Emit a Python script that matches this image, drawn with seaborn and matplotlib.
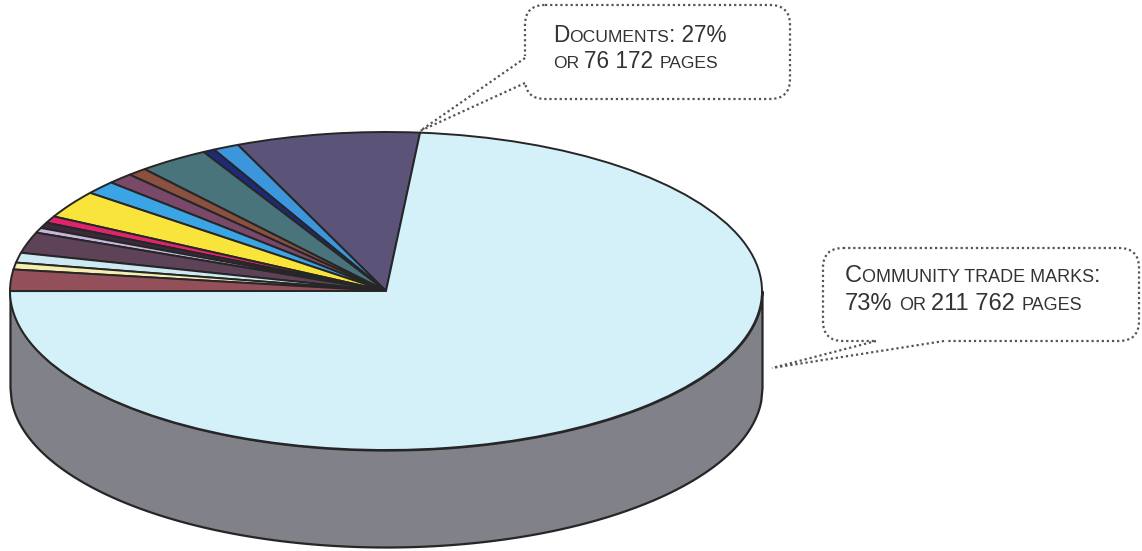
import numpy as np
import matplotlib
matplotlib.use("Agg")
import matplotlib.pyplot as plt
from matplotlib.patches import FancyBboxPatch
import seaborn as sns

# ---- data (pages) ----
ctm_label = "Community trade marks"
ctm_pages = 211762
doc_pages = [22716, 3211, 1445, 8749, 2408, 3211, 3933, 8107,
             2007, 1686, 1445, 6100, 2890, 2007, 6257]  # document sub-categories (sum 76 172)
doc_colors = ["#5b5478", "#3d95dc", "#1c2a78", "#4a747c", "#8a5040", "#7a4868",
              "#3aa4e4", "#f8e43a", "#e0246c", "#3a2a3a", "#c8b4dc", "#5e4258",
              "#cde9f2", "#f6eeb0", "#94505a"]
ctm_color = "#d4f1f9"
side_color = "#818189"

sns.set_theme(style="white")
plt.rcParams['font.family'] = ['Liberation Sans', 'DejaVu Sans']

W, H = 1142, 551
fig = plt.figure(figsize=(W / 100, H / 100), dpi=100)
fig.patch.set_facecolor("white")

# geometry of the pie in pixels
cx, cy, rx, ry, depth = 386, 291, 376, 159, 97
d = depth / ry
m = 0.02
ax_w = 2 * (1 + m) * rx
ax_h = (2 + d + 2 * m) * ry
left_px = cx - (1 + m) * rx
top_px = cy - (1 + m) * ry
ax = fig.add_axes([left_px / W, 1 - (top_px + ax_h) / H, ax_w / W, ax_h / H])

# side wall
x = np.linspace(-1, 1, 600)
s = np.sqrt(np.clip(1 - x ** 2, 0, None))
ax.fill_between(x, -s - d, -s, facecolor=side_color, edgecolor="#262626", linewidth=1.6, zorder=1)

values = doc_pages + [ctm_pages]
colors = doc_colors + [ctm_color]
ax.pie(values, colors=colors, startangle=84.8, counterclock=True,
       wedgeprops=dict(edgecolor="#262626", linewidth=1.4, zorder=2))
ax.set_aspect("auto")
ax.set_xlim(-1 - m, 1 + m)
ax.set_ylim(-1 - d - m, 1 + m)
ax.axis("off")

# overlay axes in pixel coordinates for callouts
ov = fig.add_axes([0, 0, 1, 1])
ov.set_xlim(0, W)
ov.set_ylim(H, 0)
ov.axis("off")
ov.patch.set_alpha(0)

dot = (0, (1, 1.3))
ec = "#555555"


def callout(x0, y0, x1, y1, tails, tip):
    box = FancyBboxPatch((x0, y0), x1 - x0, y1 - y0,
                         boxstyle="round,pad=0,rounding_size=20",
                         facecolor="white", edgecolor=ec, linewidth=1.6, linestyle=dot, zorder=2)
    ov.add_patch(box)
    (ax_, ay_), (bx_, by_) = tails
    # open the border where the pointer joins the box
    ov.plot([ax_, bx_], [ay_, by_], color="white", linewidth=3, zorder=3)
    for (tx, ty) in tails:
        ov.plot([tx, tip[0]], [ty, tip[1]], color=ec, linewidth=1.6, linestyle=dot, zorder=4)


callout(525, 5, 790, 99, [(525, 58), (525, 83)], (420, 131))
callout(823, 248, 1139, 341, [(876, 341), (944, 341)], (772, 368))

renderer = fig.canvas.get_renderer()
txt_color = "#333333"


def sc_line(x, y, parts, L, S):
    for txt, big in parts:
        size = L if big else S
        if txt == " ":
            x += size * 100 / 72 * 0.28
            continue
        t = ov.text(x, y, txt, fontsize=size, va="baseline", ha="left", color=txt_color, zorder=5)
        x += t.get_window_extent(renderer).width


sc_line(553, 42, [("D", 1), ("OCUMENTS", 0), (": 27%", 1)], 16.3, 12.6)
sc_line(553, 68, [("OR", 0), (" ", 0), ("76 172", 1), (" ", 1), ("PAGES", 0)], 16.3, 12.6)
sc_line(845, 282, [("C", 1), ("OMMUNITY TRADE MARKS", 0), (":", 1)], 17, 13)
sc_line(845, 310, [("73%", 1), (" ", 1), ("OR", 0), (" ", 0), ("211 762", 1), (" ", 1), ("PAGES", 0)], 17, 13)

fig.savefig("out.png", dpi=100, facecolor="white")
